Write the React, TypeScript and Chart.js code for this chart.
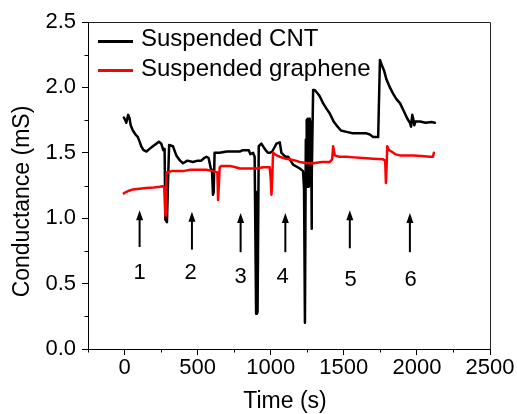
import React, { useEffect, useRef } from 'react';
import { Chart, registerables } from 'chart.js';

Chart.register(...registerables);

const seriesNames = ['Suspended CNT', 'Suspended graphene'];

const cntTime = [
  -5, 5, 12, 25, 35, 42, 57, 75, 91, 105, 114, 130, 150, 171, 194, 217, 235, 251, 265, 274,
  279, 290, 298, 305, 331, 354, 380, 400, 430, 468, 500, 525, 545, 560, 575, 590, 598, 605,
  610, 616, 650, 700, 750, 788, 810, 833, 850, 860, 879, 890, 900, 905, 910, 918, 936, 959,
  980, 993, 1010, 1030, 1039, 1062, 1073, 1100, 1119, 1153, 1199, 1221, 1228, 1234, 1240,
  1243, 1246, 1249, 1252, 1255, 1258, 1261, 1264, 1267, 1270, 1273, 1276, 1279, 1282, 1290,
  1301, 1324, 1336, 1358, 1380, 1404, 1430, 1450, 1480, 1518, 1560, 1610, 1650, 1678, 1701,
  1720, 1735, 1747, 1760, 1775, 1792, 1815, 1838, 1860, 1884, 1910, 1935, 1952, 1960, 1968,
  1975, 1982, 1990, 2021, 2060, 2100, 2123,
];
const cntValues = [
  1.77, 1.75, 1.73, 1.79, 1.76, 1.71, 1.67, 1.64, 1.62, 1.58, 1.55, 1.52, 1.51, 1.53, 1.55,
  1.57, 1.585, 1.57, 1.52, 1.53, 0.99, 0.97, 1.3, 1.56, 1.55, 1.48, 1.44, 1.42, 1.44, 1.43,
  1.44, 1.44, 1.46, 1.47, 1.46, 1.38, 1.37, 1.18, 1.2, 1.5, 1.5, 1.51, 1.51, 1.51, 1.52,
  1.52, 1.52, 1.49, 1.5, 1.47, 0.27, 1.2, 0.28, 1.55, 1.57, 1.53, 1.5, 1.5, 1.51, 1.55,
  1.57, 1.58, 1.5, 1.47, 1.47, 1.41, 1.38, 1.36, 1.22, 0.2, 1.6,
  1.25, 1.75, 1.24, 1.76, 1.25, 1.75, 1.24, 1.76, 1.25, 1.74, 1.26, 1.72, 0.92, 1.3, 1.98,
  1.98, 1.95, 1.93, 1.88, 1.84, 1.8, 1.74, 1.71, 1.67, 1.66, 1.65, 1.65, 1.65, 1.64, 1.62,
  1.62, 1.62, 2.21, 2.17, 2.13, 2.06, 2.0, 1.95, 1.91, 1.88, 1.82, 1.76, 1.73, 1.7, 1.79,
  1.76, 1.71, 1.74, 1.74, 1.73, 1.735, 1.73,
];

const grapheneTime = [
  -5, 10, 30, 57, 100, 148, 200, 240, 262, 272, 279, 283, 287, 320, 400, 450, 514, 560, 605,
  635, 640, 646, 651, 662, 719, 760, 788, 833, 902, 950, 993, 1000, 1005, 1010, 1016, 1040,
  1062, 1100, 1130, 1170, 1199, 1250, 1290, 1350, 1404, 1420, 1427, 1438, 1470, 1518, 1570,
  1632, 1700, 1769, 1783, 1788, 1793, 1797, 1810, 1826, 1850, 1884, 1930, 1975, 2030, 2089,
  2110, 2116,
];
const grapheneValues = [
  1.19, 1.2, 1.21, 1.22, 1.225, 1.23, 1.235, 1.24, 1.245, 1.24, 1.02, 1.15, 1.35, 1.36, 1.36,
  1.37, 1.37, 1.37, 1.36, 1.35, 1.14, 1.14, 1.39, 1.4, 1.4, 1.39, 1.38, 1.38, 1.38, 1.39,
  1.39, 1.3, 1.18, 1.3, 1.5, 1.48, 1.47, 1.455, 1.45, 1.44, 1.43, 1.42, 1.42, 1.43, 1.43,
  1.45, 1.55, 1.48, 1.47, 1.47, 1.465, 1.46, 1.455, 1.45, 1.44, 1.27, 1.4, 1.55, 1.52, 1.51,
  1.49, 1.48, 1.48, 1.48, 1.475, 1.47, 1.47, 1.5,
];

const xTicks = [0, 500, 1000, 1500, 2000, 2500];
const yTicks = [0, 0.5, 1.0, 1.5, 2.0, 2.5];
const xMinorTicks = [-250, 250, 750, 1250, 1750, 2250];
const yMinorTicks = [0.25, 0.75, 1.25, 1.75, 2.25];

const arrowLabels = ['1', '2', '3', '4', '5', '6'];
const arrowX = [103, 461, 794, 1100, 1541, 1952];
const arrowTipY = [1.06, 1.05, 1.04, 1.04, 1.06, 1.04];
const arrowTailY = [0.78, 0.76, 0.74, 0.74, 0.77, 0.74];
const labelX = [103, 452, 794, 1082, 1546, 1957];
const labelY = [0.58, 0.58, 0.55, 0.55, 0.53, 0.53];

const xTitle = 'Time (s)';
const yTitle = 'Conductance (mS)';

const FONT = "'Liberation Sans', Arial, Helvetica, sans-serif";

const overlayPlugin = {
  id: 'overlay',
  afterDatasetsDraw(chart: any) {
    const { ctx, chartArea, scales } = chart;
    const xs = scales.x;
    const ys = scales.y;
    ctx.save();

    // frame (top & right)
    ctx.strokeStyle = '#222';
    ctx.lineWidth = 1;
    ctx.beginPath();
    ctx.moveTo(chartArea.left, chartArea.top + 0.5);
    ctx.lineTo(chartArea.right + 0.5, chartArea.top + 0.5);
    ctx.lineTo(chartArea.right + 0.5, chartArea.bottom);
    ctx.stroke();

    // minor ticks
    ctx.strokeStyle = '#000';
    ctx.beginPath();
    xMinorTicks.forEach((v) => {
      const px = Math.round(xs.getPixelForValue(v)) + 0.5;
      ctx.moveTo(px, chartArea.bottom);
      ctx.lineTo(px, chartArea.bottom + 3.5);
    });
    yMinorTicks.forEach((v) => {
      const py = Math.round(ys.getPixelForValue(v)) + 0.5;
      ctx.moveTo(chartArea.left, py);
      ctx.lineTo(chartArea.left - 3.5, py);
    });
    ctx.stroke();

    // arrows and labels
    ctx.fillStyle = '#000';
    ctx.strokeStyle = '#000';
    arrowX.forEach((v, i) => {
      const px = xs.getPixelForValue(v);
      const tip = ys.getPixelForValue(arrowTipY[i]);
      const tail = ys.getPixelForValue(arrowTailY[i]);
      ctx.lineWidth = 2;
      ctx.beginPath();
      ctx.moveTo(px, tail);
      ctx.lineTo(px, tip + 6);
      ctx.stroke();
      ctx.beginPath();
      ctx.moveTo(px, tip);
      ctx.lineTo(px - 3.5, tip + 10);
      ctx.lineTo(px + 3.5, tip + 10);
      ctx.closePath();
      ctx.fill();
    });
    ctx.font = `22px ${FONT}`;
    ctx.textAlign = 'center';
    ctx.textBaseline = 'middle';
    arrowLabels.forEach((t, i) => {
      ctx.fillText(t, xs.getPixelForValue(labelX[i]), ys.getPixelForValue(labelY[i]));
    });

    // legend
    const colors = ['#000000', '#ff0000'];
    ctx.font = `24px ${FONT}`;
    ctx.textAlign = 'left';
    ctx.textBaseline = 'alphabetic';
    seriesNames.forEach((name, i) => {
      const ly = chartArea.top + 19.5 + i * 29;
      ctx.strokeStyle = colors[i];
      ctx.lineWidth = 3;
      ctx.beginPath();
      ctx.moveTo(chartArea.left + 10, ly);
      ctx.lineTo(chartArea.left + 45, ly);
      ctx.stroke();
      ctx.fillStyle = '#000';
      ctx.fillText(name, chartArea.left + 53, chartArea.top + 23.5 + i * 30.5);
    });

    // axis titles
    ctx.font = `23px ${FONT}`;
    ctx.fillStyle = '#000';
    ctx.textAlign = 'center';
    ctx.textBaseline = 'alphabetic';
    ctx.fillText(xTitle, (chartArea.left + chartArea.right) / 2 - 4, 408);
    ctx.save();
    ctx.translate(23, 201.5);
    ctx.rotate(-Math.PI / 2);
    ctx.textBaseline = 'middle';
    ctx.fillText(yTitle, 0, 0);
    ctx.restore();

    ctx.restore();
  },
};

export default function App() {
  const canvasRef = useRef<HTMLCanvasElement | null>(null);

  useEffect(() => {
    if (!canvasRef.current) return;
    const chart = new Chart(canvasRef.current, {
      type: 'line',
      data: {
        datasets: [
          {
            label: seriesNames[0],
            data: cntTime.map((t, i) => ({ x: t, y: cntValues[i] })),
            borderColor: '#000000',
            borderWidth: 2.5,
            borderJoinStyle: 'round',
            borderCapStyle: 'round',
            pointRadius: 0,
            tension: 0,
            fill: false,
            order: 1,
          },
          {
            label: seriesNames[1],
            data: grapheneTime.map((t, i) => ({ x: t, y: grapheneValues[i] })),
            borderColor: '#ff0000',
            borderWidth: 2.5,
            borderJoinStyle: 'round',
            borderCapStyle: 'round',
            pointRadius: 0,
            tension: 0,
            fill: false,
            order: 0,
          },
        ],
      },
      options: {
        responsive: false,
        animation: false,
        devicePixelRatio: 1,
        layout: { padding: { top: 22, right: 27, left: 0, bottom: 0 } },
        plugins: {
          legend: { display: false },
          tooltip: { enabled: false },
        },
        scales: {
          x: {
            type: 'linear',
            min: -250,
            max: 2500,
            afterBuildTicks: (s: any) => {
              s.ticks = xTicks.map((v) => ({ value: v }));
            },
            afterFit: (s: any) => {
              s.height = 65;
            },
            ticks: {
              autoSkip: false,
              maxRotation: 0,
              padding: 0,
              color: '#000',
              font: { family: FONT, size: 22 },
              callback: (v: any) => String(v),
            },
            grid: {
              drawOnChartArea: false,
              drawTicks: true,
              tickLength: 6,
              color: '#000',
              lineWidth: 1,
            },
            border: { display: true, color: '#000', width: 1 },
          },
          y: {
            type: 'linear',
            min: 0,
            max: 2.5,
            afterBuildTicks: (s: any) => {
              s.ticks = yTicks.map((v) => ({ value: v }));
            },
            afterFit: (s: any) => {
              s.width = 88;
            },
            ticks: {
              autoSkip: false,
              padding: 6,
              color: '#000',
              font: { family: FONT, size: 22 },
              callback: (v: any) => Number(v).toFixed(1),
            },
            grid: {
              drawOnChartArea: false,
              drawTicks: true,
              tickLength: 6,
              color: '#000',
              lineWidth: 1,
            },
            border: { display: true, color: '#000', width: 1 },
          },
        },
      },
      plugins: [overlayPlugin],
    });
    return () => chart.destroy();
  }, []);

  return (
    <div style={{ position: 'absolute', left: 0, top: 0, width: 517, height: 414, background: '#fff' }}>
      <canvas ref={canvasRef} width={517} height={414} style={{ width: 517, height: 414, display: 'block' }} />
    </div>
  );
}
